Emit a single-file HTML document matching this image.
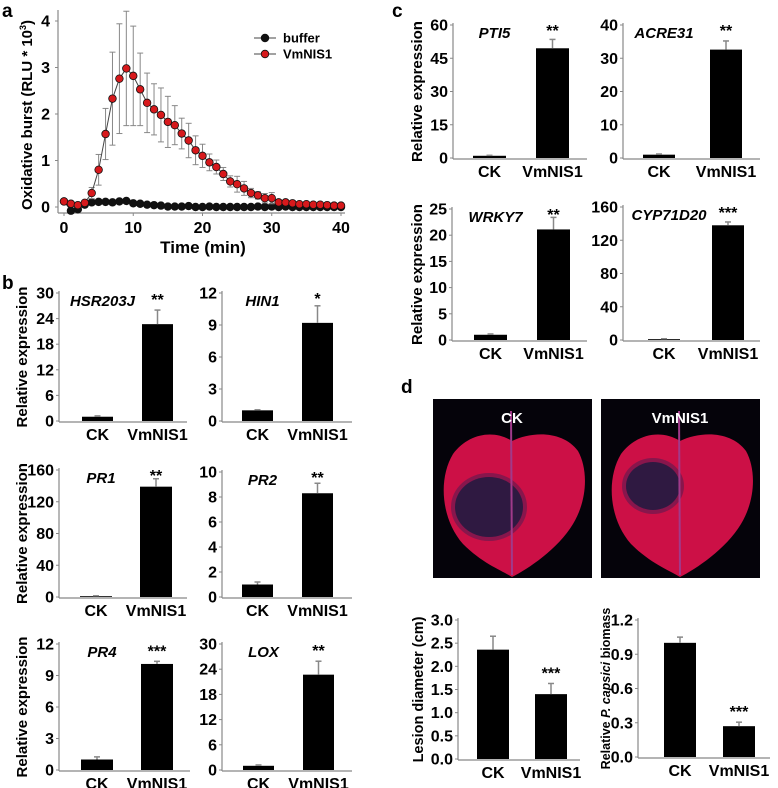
<!DOCTYPE html>
<html><head><meta charset="utf-8"><style>
html,body{margin:0;padding:0;background:#fff;}
svg{display:block;font-family:"Liberation Sans",Arial,sans-serif;}
</style></head><body>
<svg id="fig" width="778" height="788" viewBox="0 0 778 788">
<text x="2" y="17" font-size="19" font-weight="bold">a</text>
<text x="2" y="289" font-size="19" font-weight="bold">b</text>
<text x="392" y="17" font-size="19" font-weight="bold">c</text>
<text x="401" y="393" font-size="19" font-weight="bold">d</text>
<g id="leaves"></g>
<g id="lineChart"></g>
<g id="bars"></g>
</svg>
<script>
// ---- Panel a data ----
const timeMin = [0,1,2,3,4,5,6,7,8,9,10,11,12,13,14,15,16,17,18,19,20,21,22,23,24,25,26,27,28,29,30,31,32,33,34,35,36,37,38,39,40];
const vmnisBurst = [0.12,0.07,0.04,0.09,0.30,0.80,1.57,2.33,2.76,2.98,2.82,2.53,2.24,2.10,1.98,1.83,1.76,1.58,1.43,1.22,1.10,0.96,0.86,0.71,0.55,0.49,0.40,0.30,0.25,0.19,0.19,0.10,0.10,0.08,0.06,0.06,0.05,0.05,0.04,0.03,0.03];
const vmnisErr = [0.02,0.02,0.03,0.05,0.12,0.33,0.55,1.00,1.18,1.23,1.07,0.78,0.64,0.55,0.58,0.55,0.42,0.33,0.37,0.31,0.25,0.18,0.15,0.14,0.12,0.17,0.15,0.10,0.08,0.10,0.12,0.05,0.05,0.04,0.03,0.03,0.03,0.03,0.02,0.02,0.02];
const bufferBurst = [0.12,-0.08,-0.05,0.05,0.10,0.11,0.11,0.10,0.12,0.13,0.08,0.07,0.05,0.04,0.03,0.01,0.01,0.01,0.02,0.00,0.00,0.01,0.00,0.00,0.00,0.00,0.00,0.00,0.01,0.00,0.01,0.00,0.01,0.00,0.00,0.00,0.00,0.00,0.00,0.00,0.00];
const bufferErr = [0.02,0.02,0.02,0.03,0.03,0.05,0.03,0.03,0.04,0.05,0.03,0.02,0.02,0.02,0.02,0.01,0.01,0.01,0.02,0.01,0.01,0.01,0.01,0.01,0.01,0.01,0.01,0.01,0.03,0.01,0.02,0.01,0.02,0.01,0.01,0.01,0.01,0.01,0.01,0.01,0.01];
const burstXTicks = [0,10,20,30,40];
const burstYTicks = [0,1,2,3,4];

// ---- Bar chart data ----
const barCategories = ["CK","VmNIS1"];
const geneNames = ["HSR203J","HIN1","PR1","PR2","PR4","LOX","PTI5","ACRE31","WRKY7","CYP71D20","Lesion","Biomass"];
const geneValues = [[1.0,22.7],[1.0,9.2],[1.0,139],[1.0,8.3],[1.0,10.1],[1.0,22.7],[1.0,49.5],[1.0,32.6],[1.0,21.1],[1.0,138],[2.36,1.40],[1.00,0.27]];
const geneErrors = [[0.2,3.3],[0.05,1.6],[0.5,10],[0.2,0.8],[0.25,0.25],[0.2,3.2],[0.2,4.0],[0.2,2.6],[0.15,2.3],[0.5,4],[0.29,0.23],[0.05,0.035]];
const geneStars = ["**","*","**","**","***","**","**","**","**","***","***","***"];
const geneTickMax = [30,12,160,10,12,30,60,40,25,160,3.0,1.2];
const geneTickStep = [6,3,40,2,3,6,15,10,5,40,0.5,0.3];

const SVGNS="http://www.w3.org/2000/svg";
function mk(parent,tag,attrs,text){const e=document.createElementNS(SVGNS,tag);for(const k in attrs)e.setAttribute(k,attrs[k]);if(text!==undefined)e.textContent=text;parent.appendChild(e);return e;}

// ---- Panel a ----
(function(){
  const g=document.getElementById('lineChart');
  const x0=64,x1=341,y0=207,yTop=21;
  const sx=t=>x0+(t-0)*(x1-x0)/40;
  const sy=v=>y0-(v/4)*(y0-yTop);
  let ax=mk(g,'line',{x1:58,y1:10,x2:58,y2:213,stroke:'#888','stroke-width':1.2});
  
  ax=mk(g,'line',{x1:58,y1:213,x2:345,y2:213,stroke:'#888','stroke-width':1.2});
  
  burstYTicks.forEach(v=>{
    mk(g,'line',{x1:55,y1:sy(v),x2:58,y2:sy(v),stroke:'#888'});
    const t=mk(g,'text',{x:50,y:sy(v)+5.5,'text-anchor':'end','font-size':16,'font-weight':'bold'},String(v));
    
  });
  burstXTicks.forEach(v=>{
    mk(g,'line',{x1:sx(v),y1:213,x2:sx(v),y2:216,stroke:'#888'});
    const t=mk(g,'text',{x:sx(v),y:233,'text-anchor':'middle','font-size':16,'font-weight':'bold'},String(v));
    
  });
  let t=mk(g,'text',{x:203,y:253,'text-anchor':'middle','font-size':17,'font-weight':'bold'},'Time (min)');
  
  t=mk(g,'text',{transform:'translate(32,115) rotate(-90)','text-anchor':'middle','font-size':15,'font-weight':'bold'});
  
  t.appendChild(document.createTextNode('Oxidative burst (RLU * 10'));
  mk(t,'tspan',{'font-size':9,dy:-6},'3');
  mk(t,'tspan',{dy:6},')');
  function series(vals,errs,fill,name){
    const s=mk(g,'g',{});
    
    vals.forEach((v,i)=>{
      const x=sx(timeMin[i]),yt=sy(v+errs[i]),yb=sy(v-errs[i]);
      mk(s,'line',{x1:x,y1:yt,x2:x,y2:yb,stroke:'#888','stroke-width':1});
      mk(s,'line',{x1:x-3,y1:yt,x2:x+3,y2:yt,stroke:'#888','stroke-width':1});
      mk(s,'line',{x1:x-3,y1:yb,x2:x+3,y2:yb,stroke:'#888','stroke-width':1});
    });
    mk(s,'polyline',{points:vals.map((v,i)=>sx(timeMin[i])+','+sy(v)).join(' '),fill:'none',stroke:'#444','stroke-width':1});
    vals.forEach((v,i)=>{
      const c=mk(s,'circle',{cx:sx(timeMin[i]),cy:sy(v),r:3.8,fill:fill,stroke:'#111','stroke-width':0.8});
      
    });
  }
  series(bufferBurst,bufferErr,'#111','buffer');
  series(vmnisBurst,vmnisErr,'#d7191c','vmnis1');
  const leg=mk(g,'g',{});
  
  [['buffer','#111',38],['VmNIS1','#d7191c',54]].forEach(([lab,col,y])=>{
    mk(leg,'line',{x1:254,y1:y,x2:276,y2:y,stroke:'#444'});
    mk(leg,'circle',{cx:265,cy:y,r:3.8,fill:col,stroke:'#111','stroke-width':0.8});
    const lt=mk(leg,'text',{x:283,y:y+4.5,'font-size':13,'font-weight':'bold'},lab);
    
  });
})();

// layout: [axisX, topY, zeroY, ckLeft, vmLeft, barW, axisEnd, titleText, titleX, titleFont, geneLabel]
const layouts=[
 [59,293,421,82,142,31,187,'Relative expression',27,15,true],
 [222,293,421,242,302,31,352,null,0,0,true],
 [59,470,597,80,140,32,187,'Relative expression',27,15,true],
 [222,472,597,242,302,31,352,null,0,0,true],
 [59,644,770,81,141,32,190,'Relative expression',27,15,true],
 [222,644,770,243,303,31,352,null,0,0,true],
 [453,25,158,473,536,33,587,'Relative expression',422,15,true],
 [623,25,158,643,710,32,760,null,0,0,true],
 [452,209,340,474,537,33,587,'Relative expression',422,15,true],
 [623,207,340,648,712,32,760,null,0,0,true],
 [458,620,759,477,535,32,580,'Lesion diameter (cm)',423,14.5,false],
 [638,620,757,664,723,32,770,'BIOMASS',610,12.5,false]
];
(function(){
  const root=document.getElementById('bars');
  geneNames.forEach((gn,i)=>{
    const [axX,top,zero,ckL,vmL,bw,axEnd,title,tx,tf,showGene]=layouts[i];
    const g=mk(root,'g',{});
    
    
    const max=geneTickMax[i],step=geneTickStep[i];
    const sy=v=>zero-(v/max)*(zero-top);
    let l=mk(g,'line',{x1:axX,y1:top-2,x2:axX,y2:zero+1,stroke:'#888','stroke-width':1.2});
    
    l=mk(g,'line',{x1:axX,y1:zero+1,x2:axEnd,y2:zero+1,stroke:'#888','stroke-width':1.2});
    
    const dec=(step<1)?1:0;
    for(let k=0;k*step<=max+1e-9;k++){
      const v=k*step;
      mk(g,'line',{x1:axX-3,y1:sy(v),x2:axX,y2:sy(v),stroke:'#888'});
      const t=mk(g,'text',{x:axX-5,y:sy(v)+5.5,'text-anchor':'end','font-size':16,'font-weight':'bold'},v.toFixed(dec));
      
    }
    const lefts=[ckL,vmL];
    let errTopVm=0;
    barCategories.forEach((cat,j)=>{
      const v=geneValues[i][j],e=geneErrors[i][j],x=lefts[j];
      const r=mk(g,'rect',{x:x,y:sy(v),width:bw,height:zero-sy(v),fill:'#000'});
      
      const cx=x+bw/2,ye=sy(v+e);
      mk(g,'line',{x1:cx,y1:sy(v),x2:cx,y2:ye,stroke:'#888','stroke-width':1.5});
      mk(g,'line',{x1:cx-3,y1:ye,x2:cx+3,y2:ye,stroke:'#888','stroke-width':1.5});
      if(j===1)errTopVm=ye;
      const ct=mk(g,'text',{x:cx,y:zero+19,'text-anchor':'middle','font-size':16,'font-weight':'bold'},cat);
      
    });
    const st=mk(g,'text',{x:vmL+bw/2,y:Math.max(errTopVm-5,top+11),'text-anchor':'middle','font-size':16,'font-weight':'bold'},geneStars[i]);
    
    if(showGene){
      const gt=mk(g,'text',{x:ckL+bw/2+5,y:top+13,'text-anchor':'middle','font-size':15,'font-weight':'bold','font-style':'italic'},gn);
      
    }
    if(title){
      const cy=(top+zero)/2;
      const tt=mk(g,'text',{transform:'translate('+tx+','+cy+') rotate(-90)','text-anchor':'middle','font-size':tf,'font-weight':'bold'});
      
      if(title==='BIOMASS'){
        tt.appendChild(document.createTextNode('Relative '));
        mk(tt,'tspan',{'font-style':'italic'},'P. capsici');
        tt.appendChild(document.createTextNode(' biomass'));
      } else tt.textContent=title;
    }
  });
})();

// ---- Leaf images ----
(function(){
  const root=document.getElementById('leaves');
  [[433,'CK',[56,108,34,30]],[601,'VmNIS1',[52,87,27,24]]].forEach(([x,lab,les])=>{
    const g=mk(root,'g',{transform:'translate('+x+',399)'});
    
    
    mk(g,'rect',{x:0,y:0,width:159,height:179,fill:'#05030a'});
    mk(g,'path',{d:'M79,42 C60,30 35,35 20,55 C5,80 8,120 30,145 C50,165 70,172 79,178 C95,170 125,150 140,125 C155,100 155,70 145,52 C130,32 100,32 79,42 Z',fill:'#cc1046'});
    mk(g,'ellipse',{cx:les[0],cy:les[1],rx:les[2]+4,ry:les[3]+4,fill:'#5a1a50',opacity:0.6});
    mk(g,'ellipse',{cx:les[0],cy:les[1],rx:les[2],ry:les[3],fill:'#261a40',opacity:0.9});
    mk(g,'line',{x1:78,y1:12,x2:79,y2:176,stroke:'#a03a8a','stroke-width':2});
    const t=mk(g,'text',{x:79,y:24,'text-anchor':'middle','font-size':15,'font-weight':'bold',fill:'#fff'},lab);
    
  });
})();
</script>
</body></html>
